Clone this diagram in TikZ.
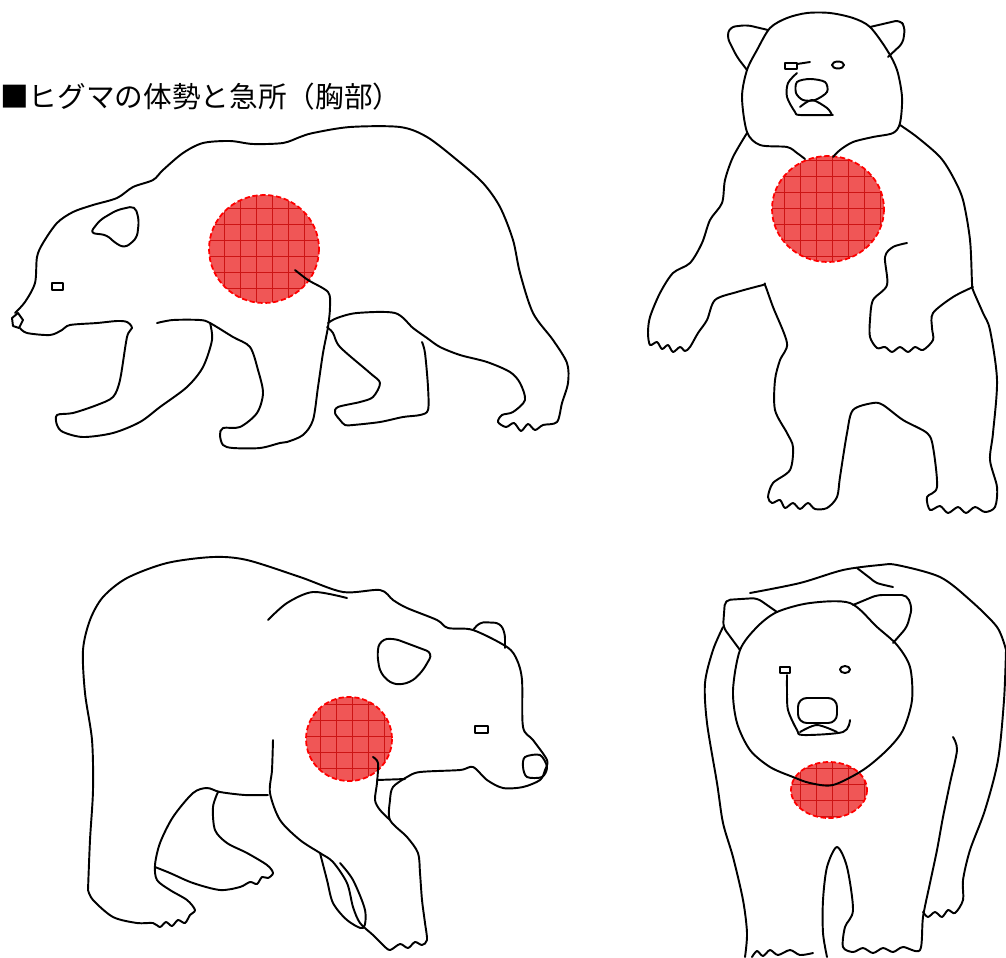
\documentclass[tikz,border=0pt]{standalone}
\usepackage{fontspec}
\newfontfamily\cjk{Noto Sans CJK JP}
\definecolor{vitalred}{RGB}{240,86,86}
\definecolor{vitalgrid}{RGB}{205,20,20}
\tikzset{
  bearline/.style={line width=1.1pt, line join=round, line cap=round},
  vitalfill/.style={fill=vitalred},
  vitaledge/.style={draw=red, line width=1pt, dash pattern=on 3pt off 1.5pt},
  gridline/.style={draw=vitalgrid, line width=0.35pt}
}
% red target area with grid
\newcommand{\vital}[4]{
  \fill[vitalfill] (#1,#2) ellipse [x radius=#3, y radius=#4];
  \begin{scope}
    \clip (#1,#2) ellipse [x radius=#3, y radius=#4];
    \draw[gridline] (#1-#3,#2-#4) grid[step=0.32cm] (#1+#3,#2+#4);
  \end{scope}
  \draw[vitaledge] (#1,#2) ellipse [x radius=#3, y radius=#4];
}
\begin{document}
\begin{tikzpicture}[x=0.02cm, y=-0.02cm]
\useasboundingbox (0,0) rectangle (1006,957);
\node[anchor=west, inner sep=0, font=\cjk\fontsize{16.3}{18}\selectfont] (title) at (0,97) {■ヒグマの体勢と急所（胸部）};

% bear 1, walking left
\vital{264}{249}{55}{54}
\draw[bearline] plot[smooth, tension=0.5] coordinates {(15,313) (25,302) (35,283) (37,257) (43,243) (57,223) (73,212) (93,205) (117,198) (133,187) (153,180) (163,170) (183,153) (203,143) (230,141) (253,144) (283,143) (300,137) (313,133) (350,127) (400,127) (427,137) (457,160) (483,183) (500,207) (513,240) (520,273) (533,313) (553,340) (567,363) (568,383) (562,403) (557,422) (543,425) (535,430) (528,424) (521,431) (514,423) (506,427) (498,422) (502,415) (513,412) (525,400) (520,383) (510,372) (487,362) (460,355) (440,347) (427,338) (413,328) (395,313) (357,313) (337,318) (328,323)};
\draw[bearline] (12,318) -- (18,313) -- (23,320) -- (19,328) -- (13,326) -- cycle;
\draw[bearline] plot[smooth, tension=0.5] coordinates {(20,328) (27,333) (50,335) (62,330) (70,325) (97,323) (117,321) (127,322) (132,328) (127,337) (120,380) (113,397) (97,405) (73,413) (57,415) (57,425) (63,432) (83,437) (113,433) (140,422) (160,407) (187,387) (203,367) (212,340) (210,323)};
\draw[bearline] plot[smooth, tension=0.5] coordinates {(157,323) (173,320) (200,320) (210,323) (233,337) (250,347) (258,370) (263,393) (257,413) (240,427) (223,428) (220,435) (223,445) (233,448) (260,448) (280,443) (287,442) (303,435) (313,420) (318,387) (323,353) (328,327) (330,307) (328,292) (308,280) (295,270)};
\draw[bearline] plot[smooth, tension=0.5] coordinates {(422,342) (425,353) (428,387) (428,410) (420,415) (403,417) (380,422) (353,425) (345,425) (340,420) (335,413) (338,407) (360,402) (373,397) (380,383) (370,373) (340,347) (333,333) (327,327)};
\draw[bearline, rounded corners=3pt] (90,233) -- (100,220) -- (117,210) -- (135,206) -- (139,220) -- (137,238) -- (125,248) -- (115,243) -- (107,235) -- cycle;
\draw[bearline] (52,283) rectangle (63,290);

% bear 2, standing
\vital{828}{209}{56}{53}
\draw[bearline] plot[smooth, tension=0.5] coordinates {(833,157) (840,150) (853,142) (873,137) (893,133) (900,123) (902,97) (897,70) (887,50) (870,27) (853,18) (830,13) (807,13) (787,18) (770,28) (757,50) (747,70) (742,97) (747,132) (760,145) (787,147) (797,153) (805,159)};
\draw[bearline, rounded corners=3pt] (768,30) -- (747,25) -- (730,27) -- (727,37) -- (737,57) -- (747,70);
\draw[bearline, rounded corners=3pt] (870,27) -- (900,20) -- (905,27) -- (903,43) -- (888,57);
\draw[bearline] (785,63) rectangle (797,69);
\draw[bearline] (797,64) -- (810,62);
\draw[bearline] (838,65) ellipse [x radius=6, y radius=3.5];
\draw[bearline] plot[smooth, tension=0.5] coordinates {(797,73) (788,83) (787,97) (795,112) (800,115) (833,115)};
\draw[bearline] plot[smooth cycle, tension=0.5] coordinates {(797,82) (810,79) (825,82) (827,92) (815,100) (803,100) (796,93)};
\draw[bearline] plot[smooth, tension=0.5] coordinates {(800,107) (812,100) (827,108) (832,115)};
\draw[bearline] plot[smooth, tension=0.5] coordinates {(747,133) (733,157) (725,180) (722,203) (710,220) (702,243) (690,263) (673,273) (660,293) (650,317) (648,333) (650,345) (657,342) (662,349) (668,345) (673,352) (680,347) (685,351) (690,347) (698,333) (707,320) (715,300) (737,292) (763,285) (765,285) (773,307) (787,343) (780,360) (775,380) (775,410) (787,433) (793,447) (790,470) (773,483) (768,497) (772,503) (780,500) (785,508) (793,503) (800,509) (808,503) (815,509) (827,508) (837,497) (840,477) (847,433) (853,410) (873,403) (883,405) (903,420) (927,433) (933,447) (937,487) (927,497) (930,510) (940,506) (948,513) (958,507) (966,513) (975,507) (985,512) (995,507) (997,487) (990,460) (993,433) (997,380) (990,330) (983,313) (973,290) (972,283) (970,240) (963,200) (953,177) (940,157) (917,137) (900,125)};
\draw[bearline] plot[smooth, tension=0.5] coordinates {(973,287) (953,297) (933,313) (932,328) (933,340) (923,350) (915,347) (908,352) (900,347) (892,352) (885,347) (877,348) (870,337) (870,320) (873,300) (887,285) (885,257) (893,247) (907,243)};

% bear 3, walking right
\vital{349}{739}{43}{42}
\draw[bearline] plot[smooth, tension=0.5] coordinates {(88,890) (90,840) (93,790) (92,740) (85,693) (83,650) (90,620) (103,597) (127,578) (167,563) (213,557) (247,560) (300,577) (343,592) (380,590) (393,600) (407,608) (437,620) (448,628) (473,630) (507,647) (517,660) (522,680) (523,727) (533,740) (547,760) (545,770) (540,780) (523,787) (503,788) (487,780) (473,767) (460,770) (420,772) (407,777) (393,787) (390,800) (390,820) (407,837) (418,853) (420,873) (422,900) (425,923) (427,940) (422,945) (415,942) (408,948) (400,944) (390,950) (383,945) (373,935) (360,923) (353,907) (347,883) (333,862) (320,853) (300,840) (280,820) (270,793) (272,770) (273,740)};
\draw[bearline] plot[smooth, tension=0.5] coordinates {(88,890) (93,900) (113,917) (137,923) (153,923) (160,927) (166,922) (172,926) (178,920) (185,923) (190,915) (195,910) (187,900) (170,890) (157,880) (155,865) (160,843) (173,817) (193,793) (207,788) (220,792) (245,795) (268,795)};
\draw[bearline] plot[smooth, tension=0.5] coordinates {(218,792) (213,807) (215,830) (227,843) (247,853) (267,865) (273,873) (268,878) (262,877) (257,884) (250,882) (240,887) (220,890) (193,883) (170,873) (155,867)};
\draw[bearline] plot[smooth, tension=0.5] coordinates {(373,757) (378,763) (377,783) (375,800) (380,810) (390,820)};
\draw[bearline] (377,780) -- (405,779);
\draw[bearline] plot[smooth, tension=0.5] coordinates {(320,853) (327,880) (333,903) (347,920) (363,928) (365,910) (353,880) (340,863)};
\draw[bearline] plot[smooth cycle, tension=0.5] coordinates {(525,757) (540,755) (547,767) (542,777) (527,777) (523,767)};
\draw[bearline, rounded corners=3pt] (473,630) -- (480,622) -- (500,623) -- (505,633) -- (505,648);
\draw[bearline, rounded corners=4pt] (380,640) -- (393,638) -- (433,653) -- (422,672) -- (410,683) -- (393,685) -- (380,673) -- (377,653) -- cycle;
\draw[bearline] (475,726) rectangle (488,733);
\draw[bearline] plot[smooth, tension=0.5] coordinates {(268,620) (287,603) (313,592) (347,598)};

% bear 4, front view
\vital{829}{790}{38}{28}
\draw[bearline] plot[smooth cycle, tension=0.5] coordinates {(777,612) (810,603) (850,603) (877,627) (897,645) (910,667) (912,700) (903,730) (887,750) (863,770) (833,785) (810,783) (793,777) (770,767) (750,750) (737,723) (733,690) (740,650) (757,627)};
\draw[bearline, rounded corners=3pt] (777,612) -- (757,598) -- (725,600) -- (723,627) -- (740,650);
\draw[bearline, rounded corners=3pt] (853,605) -- (877,595) -- (907,595) -- (912,608) -- (907,627) -- (893,643);
\draw[bearline] plot[smooth, tension=0.5] coordinates {(750,593) (800,583) (843,570) (880,565) (897,565) (940,577) (970,600) (997,627) (1006,650)};
\draw[bearline] plot[smooth, tension=0.5] coordinates {(857,568) (870,578) (877,583) (893,587)};
\draw[bearline] plot[smooth, tension=0.5] coordinates {(723,627) (713,650) (705,683) (707,723) (717,783) (723,823) (733,857) (743,900) (747,933) (745,957)};
\draw[bearline] plot[smooth, tension=0.5] coordinates {(752,957) (757,951) (763,956) (770,950) (778,955) (790,950) (800,955) (813,953)};
\draw[bearline] plot[smooth, tension=0.5] coordinates {(827,957) (823,933) (823,900) (827,867) (837,847) (847,867) (853,910) (845,927) (843,947) (853,952) (863,948) (873,953) (883,948) (893,952) (903,947) (920,950) (923,917) (930,883) (937,850) (943,817) (950,783) (957,750) (953,737)};
\draw[bearline] plot[smooth, tension=0.5] coordinates {(1006,650) (1004,700) (998,760) (985,810) (970,850) (963,880) (963,900) (955,913) (948,910) (942,917) (935,912) (928,917) (923,912)};
\draw[bearline] (780,667) rectangle (790,673);
\draw[bearline] (845,669.5) ellipse [x radius=5, y radius=3.5];
\draw[bearline] plot[smooth, tension=0.5] coordinates {(787,675) (787,690) (788,710) (797,730) (803,735) (843,732) (850,720)};
\draw[bearline, rounded corners=5pt] (798,698) rectangle (837,723);
\draw[bearline] plot[smooth, tension=0.5] coordinates {(800,732) (817,725) (837,732)};
\end{tikzpicture}
\end{document}
